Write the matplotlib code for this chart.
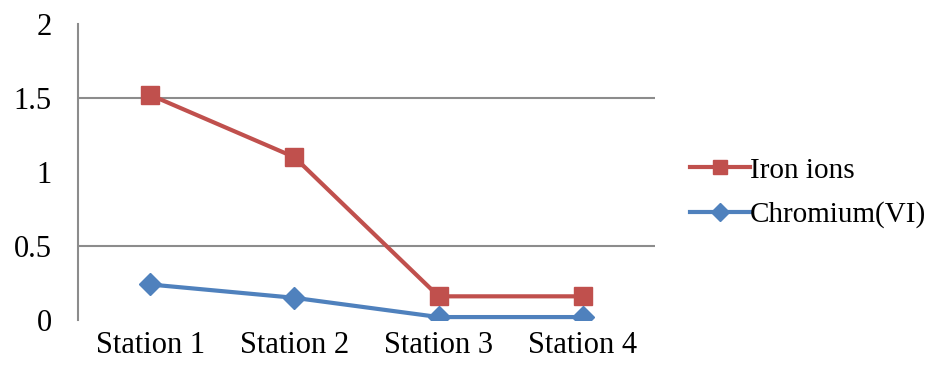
import matplotlib
matplotlib.use("Agg")
import matplotlib.pyplot as plt

# station measurements
stations = ["Station 1", "Station 2", "Station 3", "Station 4"]
iron_ions = [1.52, 1.10, 0.16, 0.16]
chromium_vi = [0.24, 0.15, 0.02, 0.02]

plt.rcParams["font.family"] = ["Liberation Serif", "DejaVu Serif"]

fig = plt.figure(figsize=(9.29, 3.67), dpi=100)
ax = fig.add_axes([0.084, 0.128, 0.621, 0.807])

x = range(len(stations))
ax.plot(x, iron_ions, color="#C0504D", lw=3, marker="s", ms=13,
        label="Iron ions", zorder=3)
ax.plot(x, chromium_vi, color="#4F81BD", lw=3, marker="D", ms=11,
        label="Chromium(VI)", zorder=3)

ax.set_xlim(-0.5, len(stations) - 0.5)
ax.set_ylim(0, 2)
ax.set_yticks([0, 0.5, 1, 1.5, 2])
ax.set_yticklabels(["0", "0.5", "1", "1.5", "2"])
ax.set_xticks(list(x))
ax.set_xticklabels(stations)
ax.tick_params(axis="x", length=0, labelsize=22, pad=8)
ax.tick_params(axis="y", length=0, labelsize=22, pad=19)

# only the two half-step gridlines
for g in [0.5, 1.5]:
    ax.axhline(g, color="#8C8C8C", lw=1.5, zorder=1)

for side in ["top", "right", "bottom"]:
    ax.spines[side].set_visible(False)
ax.spines["left"].set_color("#8C8C8C")
ax.spines["left"].set_linewidth(1.5)

fig.legend(loc="center left", bbox_to_anchor=(0.743, 0.475), frameon=False,
           fontsize=21, handlelength=2.05, handletextpad=0.0,
           labelspacing=0.6, borderpad=0, borderaxespad=0, markerscale=0.8)

fig.savefig("out.png", dpi=100)
